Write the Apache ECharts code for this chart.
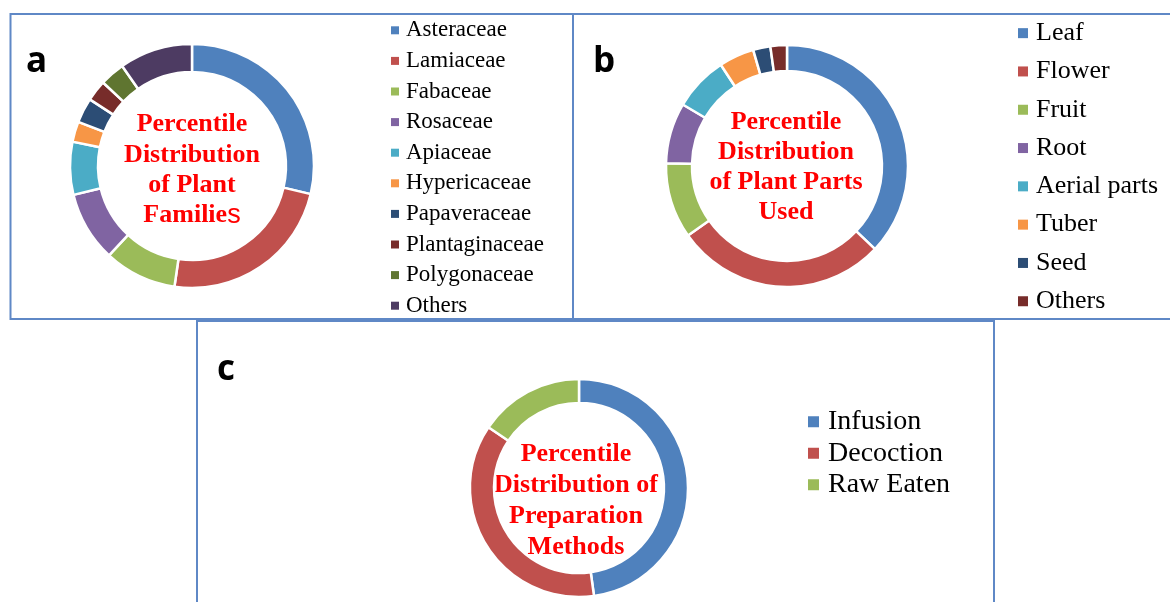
<!DOCTYPE html>
<html>
<head>
<meta charset="utf-8">
<title>Percentile distributions</title>
<script src="https://cdn.jsdelivr.net/npm/echarts@6.0.0/dist/echarts.min.js"></script>
<style>
  html, body { margin: 0; padding: 0; background: #fff; }
  #chart { width: 1170px; height: 602px; }
</style>
</head>
<body>
<div id="chart"></div>
<script>
// --- data (percent of total) ---
var familyNames  = ['Asteraceae', 'Lamiaceae', 'Fabaceae', 'Rosaceae', 'Apiaceae',
                    'Hypericaceae', 'Papaveraceae', 'Plantaginaceae', 'Polygonaceae', 'Others'];
var familyValues = [28.7, 23.6, 9.6, 9.3, 7.0, 2.7, 3.3, 2.8, 3.3, 9.7];

var partNames  = ['Leaf', 'Flower', 'Fruit', 'Root', 'Aerial parts', 'Tuber', 'Seed', 'Others'];
var partValues = [37.0, 28.2, 10.1, 8.1, 7.3, 4.7, 2.3, 2.2];

var methodNames  = ['Infusion', 'Decoction', 'Raw Eaten'];
var methodValues = [47.8, 36.6, 15.6];

// office style palette
var palette = ['#4F81BD', '#C0504D', '#9BBB59', '#8064A2', '#4BACC6',
               '#F79646', '#2C4D75', '#772C2A', '#5F7530', '#4D3B62'];

(function () {
  var serif = '"Liberation Serif", "Times New Roman", serif';
  var frameColor = '#5f88c6';

  var pieData = function (names, values) {
    return names.map(function (n, i) {
      return { name: n, value: values[i], itemStyle: { color: palette[i] } };
    });
  };
  // legend swatches: own colour, no white pie border
  var legendData = function (names) {
    return names.map(function (n, i) {
      return { name: n, itemStyle: { color: palette[i], borderWidth: 0 } };
    });
  };

  var donut = function (name, center, radius, data) {
    return {
      type: 'pie',
      name: name,
      center: center,
      radius: radius,
      startAngle: 90,
      clockwise: true,
      avoidLabelOverlap: false,
      silent: true,
      label: { show: false },
      labelLine: { show: false },
      itemStyle: { borderColor: '#fff', borderWidth: 2.5 },
      data: data
    };
  };

  var legend = function (names, left, top, size, lh, icon, pad) {
    return {
      orient: 'vertical',
      left: left,
      top: top,
      padding: 0,
      itemGap: 0,
      itemWidth: icon,
      itemHeight: icon,
      icon: 'rect',
      selectedMode: false,
      itemStyle: { borderWidth: 0 },
      data: legendData(names),
      textStyle: {
        fontFamily: serif,
        fontSize: size,
        lineHeight: lh,
        color: '#000',
        padding: [0, 0, 0, pad]
      }
    };
  };

  var centerText = function (x, y, text, lh) {
    return {
      type: 'text',
      x: x,
      y: y,
      silent: true,
      style: {
        text: text,
        fill: '#ff0000',
        font: 'bold 26px ' + serif,
        lineHeight: lh,
        align: 'center',
        verticalAlign: 'middle',
        rich: {
          s: { fontFamily: '"Liberation Sans", Arial, sans-serif', fontWeight: 'normal',
               fontSize: 27, fill: '#ff0000', lineHeight: lh }
        }
      }
    };
  };

  var letter = function (x, y, t) {
    return {
      type: 'text', x: x, y: y, silent: true,
      style: { text: t, fill: '#000', font: 'bold 35px "Open Sans", sans-serif',
               verticalAlign: 'top' }
    };
  };

  var frame = function (x, y, w, h) {
    return {
      type: 'rect', silent: true,
      shape: { x: x, y: y, width: w, height: h },
      style: { fill: 'none', stroke: frameColor, lineWidth: 2 }
    };
  };

  var chart = echarts.init(document.getElementById('chart'), null, { renderer: 'canvas' });
  chart.setOption({
    animation: false,
    backgroundColor: '#fff',
    legend: [
      legend(familyNames, 391, 15, 23, 30.6, 8, 2),
      legend(partNames, 1018, 14, 26, 38.3, 10, 3),
      legend(methodNames, 808, 406, 28, 31.5, 11, 4)
    ],
    series: [
      donut('Plant Families', [192, 166], [94, 122], pieData(familyNames, familyValues)),
      donut('Plant Parts Used', [787, 166], [95, 121], pieData(partNames, partValues)),
      donut('Preparation Methods', [579, 488], [85, 109], pieData(methodNames, methodValues))
    ],
    graphic: [
      frame(10.5, 14, 562.5, 305),
      frame(573, 14, 610, 305),
      frame(197, 321, 797, 300),
      letter(26, 45, 'a'),
      letter(593, 45, 'b'),
      letter(217, 353, 'c'),
      centerText(192, 170, 'Percentile\nDistribution\nof Plant\nFamilie{s|s}', 30.3),
      centerText(786, 167, 'Percentile\nDistribution\nof Plant Parts\nUsed', 30),
      centerText(576, 501, 'Percentile\nDistribution of\nPreparation\nMethods', 31)
    ]
  });
})();
</script>
</body>
</html>
